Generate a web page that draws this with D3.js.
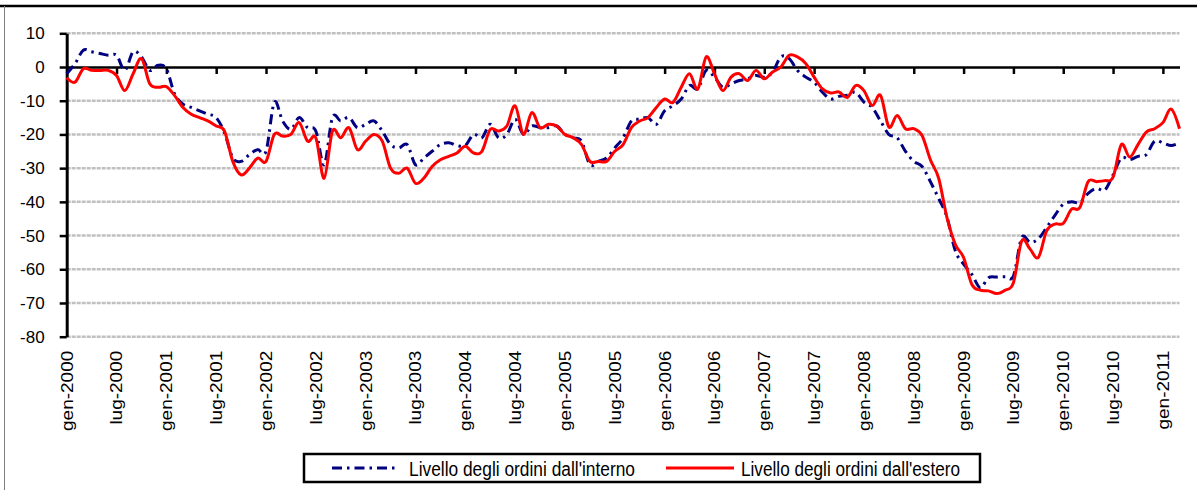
<!DOCTYPE html>
<html>
<head>
<meta charset="utf-8">
<script src="https://cdn.jsdelivr.net/npm/d3@7"></script>
<style>
	html, body { margin: 0; padding: 0; background: #fff; }
	svg { display: block; }
	.ylab { font-family: "Liberation Sans", Arial, sans-serif; font-size: 17px; fill: #000; }
	.xlab { font-family: "Liberation Sans", Arial, sans-serif; font-size: 19px; fill: #000; }
	.leg { font-family: "Liberation Sans", Arial, sans-serif; font-size: 20px; fill: #000; }
</style>
</head>
<body>
<div id="wrapper"></div>
<script>
// month names used for the category axis
const monthNames = ['gen', 'feb', 'mar', 'apr', 'mag', 'giu', 'lug', 'ago', 'set', 'ott', 'nov', 'dic'];
const firstYear = 2000;
const nMonths = 135; // gen-2000 .. mar-2011

const tickLabels = ['gen-2000', 'lug-2000', 'gen-2001', 'lug-2001', 'gen-2002', 'lug-2002', 'gen-2003', 'lug-2003',
	'gen-2004', 'lug-2004', 'gen-2005', 'lug-2005', 'gen-2006', 'lug-2006', 'gen-2007', 'lug-2007',
	'gen-2008', 'lug-2008', 'gen-2009', 'lug-2009', 'gen-2010', 'lug-2010', 'gen-2011'];

const yTicks = [10, 0, -10, -20, -30, -40, -50, -60, -70, -80];

// Livello degli ordini dall'interno
const interno = [
	-2, 1, 5, 4.5, 4, 3.5, 3.5, -1, 4.5, 3, -1, 0.5,
	-0.5, -8, -11, -12, -13, -14, -15, -19.5, -27, -28, -26, -24.5,
	-25, -10.5, -16, -18.5, -15, -18, -19, -29, -15, -16, -15, -18,
	-17, -16, -19, -23, -24, -23, -29, -27, -25, -23, -22.5, -23.3,
	-23.3, -20, -21, -17, -21, -20, -15.5, -20, -17.5, -18, -18, -17.5,
	-20, -21, -22, -29, -28, -27, -24, -21, -16, -15.5, -15, -17,
	-13, -11.5, -9.5, -5.5, -6.5, -1, -3, -6, -5, -4, -3.5, -2.5,
	-3, -1.5, 3, 2.5, -1, -3, -4.5, -7.5, -9.5, -8.7, -8.4, -7.5,
	-10.4, -12, -16, -20, -21, -25, -28, -29.5, -34, -39, -44.5, -54.5,
	-58.5, -61.5, -65.5, -62.5, -62.3, -62.2, -62, -50.6, -52, -51, -47.6, -44,
	-40.7, -40, -40.2, -37.5, -36, -36.5, -32, -27, -27.5, -26.5, -26, -22,
	-22.5, -23.3, -22.5
];

// Livello degli ordini dall'estero
const estero = [
	-3.2, -4.5, -0.5, -1, -1, -1, -2.5, -7, -2, 2.5, -5, -6,
	-5.8, -8.5, -12, -14, -15, -16, -17.5, -19, -28, -32, -30, -27,
	-28, -20, -20.5, -20, -16.5, -22, -21, -33, -19, -21, -18, -24.5,
	-22, -20, -22, -30, -31.5, -30, -34.5, -33, -29.5, -27.5, -26.5, -25.5,
	-23.5, -25.5, -25, -18.5, -19, -17.5, -11.5, -20, -13.5, -18, -17, -17.5,
	-20, -21, -23, -28, -28, -28, -25, -23, -18, -16, -15, -12,
	-9.5, -10.5, -6, -2, -6.5, 3, -2, -7, -3, -2, -4, -1,
	-3.5, -1.5, 0, 3.5, 3, 1, -3, -6.5, -7.7, -7.4, -9, -5.5,
	-7, -11.4, -8.4, -17.8, -14.4, -18.3, -18.3, -20.3, -27.5, -33, -44.7, -52.6,
	-56.5, -64.5, -66.2, -66.4, -67.2, -66.2, -64, -51.6, -54, -56.5, -48.6, -46.6,
	-46.4, -42.2, -41.7, -34, -34, -33.7, -32.7, -23, -26.7, -23, -19.3, -18.3,
	-16.5, -12.5, -18.3
];

const seriesNames = ["Livello degli ordini dall'interno", "Livello degli ordini dall'estero"];

(() => {
	const width = 1197, height = 490;
	const margin = { left: 66.7, right: 1179.5, top: 33.3, bottom: 336.7 };

	const categories = d3.range(nMonths).map((i) => {
		return monthNames[i % 12] + '-' + (firstYear + Math.floor(i / 12));
	});

	const svg = d3.select('#wrapper').append('svg')
		.attr('width', width)
		.attr('height', height);

	// frame
	svg.append('line')
		.attr('x1', 0).attr('x2', width)
		.attr('y1', 6).attr('y2', 6)
		.attr('stroke', '#000').attr('stroke-width', 2.5);
	svg.append('line')
		.attr('x1', 4.5).attr('x2', 4.5)
		.attr('y1', 6).attr('y2', height)
		.attr('stroke', '#808080').attr('stroke-width', 1);

	const x = d3.scalePoint()
		.domain(categories)
		.range([margin.left, margin.right]);

	const y = d3.scaleLinear()
		.domain([-80, 10])
		.range([margin.bottom, margin.top]);

	// gridlines
	svg.append('g')
		.selectAll('line')
		.data(yTicks.filter((d) => d !== 0))
		.enter()
		.append('line')
		.attr('x1', margin.left)
		.attr('x2', margin.right)
		.attr('y1', (d) => y(d))
		.attr('y2', (d) => y(d))
		.attr('stroke', '#c0c0c0')
		.attr('stroke-width', 2.5)
		.attr('stroke-dasharray', '4,1');

	// y axis
	const yAxis = svg.append('g')
		.attr('transform', 'translate(' + margin.left + ',0)')
		.call(d3.axisLeft(y).tickValues(yTicks).tickSize(7).tickSizeOuter(0).tickPadding(15)
			.tickFormat((d) => String(d)));
	yAxis.select('.domain').attr('stroke', '#000').attr('stroke-width', 3);
	yAxis.selectAll('.tick line').attr('stroke', '#000').attr('stroke-width', 2.5);
	yAxis.selectAll('.tick text').attr('class', 'ylab').attr('fill', '#000');
	yAxis.attr('font-family', null).attr('font-size', null);

	// zero line with tick marks
	const zAxis = svg.append('g')
		.attr('transform', 'translate(0,' + y(0) + ')')
		.call(d3.axisBottom(x).tickValues(tickLabels).tickSize(7).tickSizeOuter(0).tickFormat(''));
	zAxis.select('.domain').attr('stroke', '#000').attr('stroke-width', 2.5);
	zAxis.selectAll('.tick line').attr('stroke', '#000').attr('stroke-width', 2.5);

	// category labels under the plot (narrow look: glyphs squeezed across)
	const xAxis = svg.append('g')
		.attr('transform', 'translate(0,' + (margin.bottom + 14) + ')')
		.call(d3.axisBottom(x).tickValues(tickLabels).tickSize(0).tickSizeOuter(0));
	xAxis.select('.domain').remove();
	xAxis.attr('font-family', null).attr('font-size', null);
	xAxis.selectAll('.tick text')
		.attr('class', 'xlab')
		.attr('fill', '#000')
		.attr('transform', 'rotate(-90) scale(1,0.82)')
		.attr('x', 0)
		.attr('y', 0)
		.attr('dy', '0.35em')
		.style('text-anchor', 'end');

	// series
	const line = d3.line()
		.x((d, i) => x(categories[i]))
		.y((d) => y(d))
		.curve(d3.curveCardinal.tension(0));

	svg.append('path')
		.datum(interno)
		.attr('d', line)
		.attr('fill', 'none')
		.attr('stroke', '#000080')
		.attr('stroke-width', 3)
		.attr('stroke-dasharray', '10,5,2.5,5');

	svg.append('path')
		.datum(estero)
		.attr('d', line)
		.attr('fill', 'none')
		.attr('stroke', '#ff0000')
		.attr('stroke-width', 3);

	// legend
	const legend = svg.append('g');
	legend.append('rect')
		.attr('x', 304).attr('y', 454)
		.attr('width', 676).attr('height', 28)
		.attr('fill', '#fff')
		.attr('stroke', '#000')
		.attr('stroke-width', 2.5);

	const legendItems = [
		{ name: seriesNames[0], color: '#000080', dash: '10,5,2.5,5', x1: 332, x2: 398, tx: 409, w: 226 },
		{ name: seriesNames[1], color: '#ff0000', dash: null, x1: 666, x2: 734, tx: 741, w: 219 }
	];
	legendItems.forEach((d) => {
		legend.append('line')
			.attr('x1', d.x1).attr('x2', d.x2)
			.attr('y1', 468).attr('y2', 468)
			.attr('stroke', d.color)
			.attr('stroke-width', 3)
			.attr('stroke-dasharray', d.dash);
		legend.append('text')
			.attr('class', 'leg')
			.attr('x', d.tx)
			.attr('y', 475.5)
			.attr('textLength', d.w)
			.attr('lengthAdjust', 'spacingAndGlyphs')
			.text(d.name);
	});
})();
</script>
</body>
</html>
